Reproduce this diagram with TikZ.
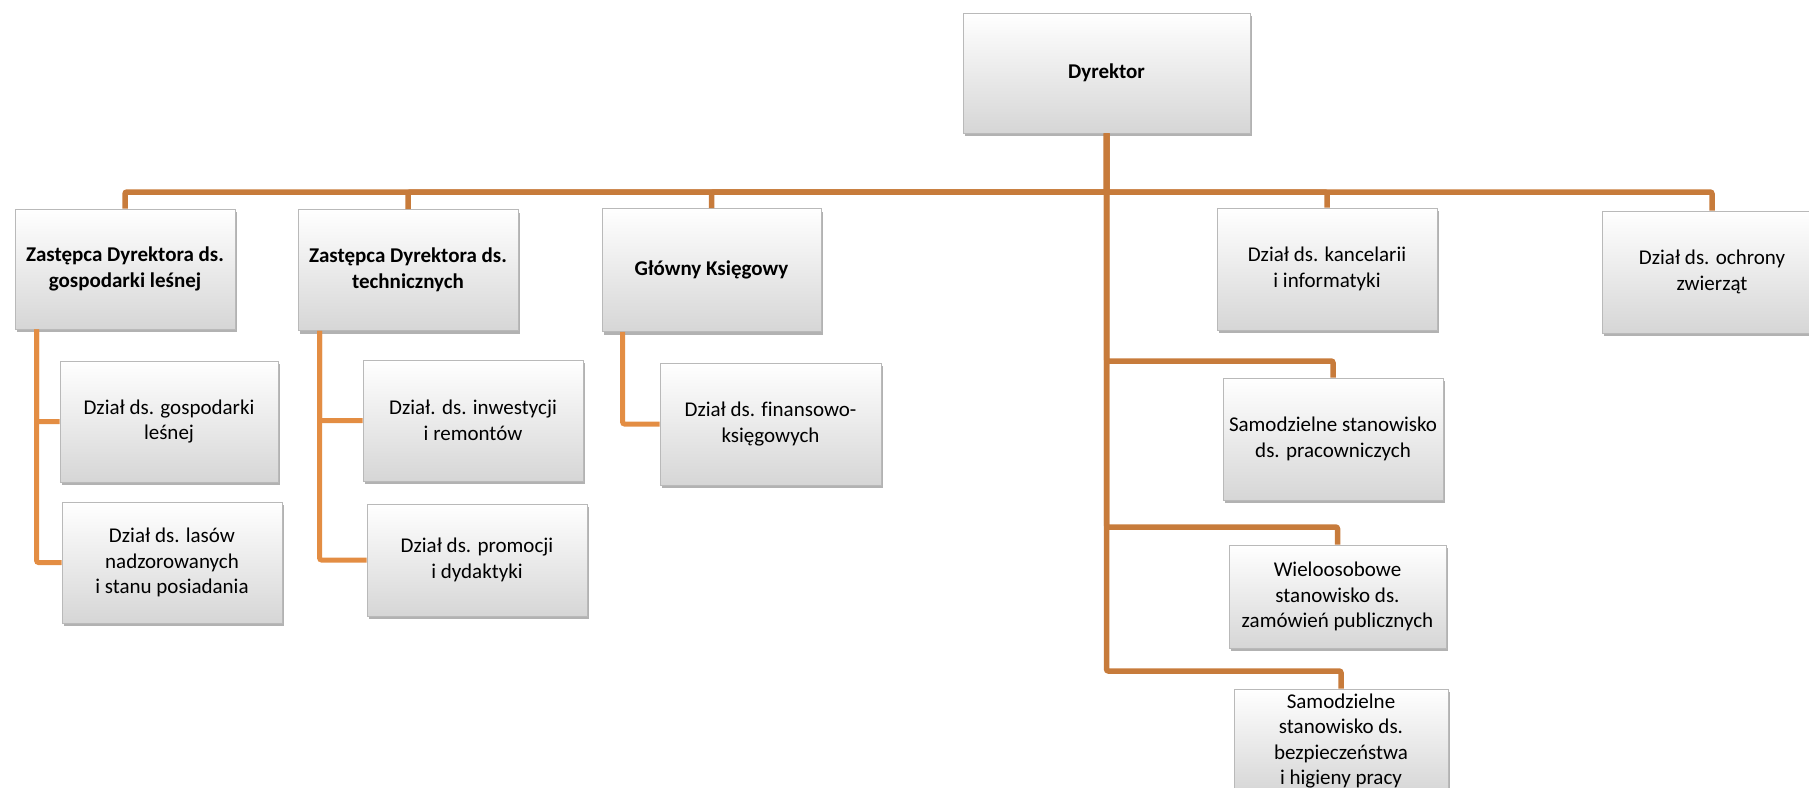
\documentclass[tikz,border=0pt]{standalone}
\usepackage{fontspec}
\setmainfont[Ligatures=NoCommon]{Carlito}
\usetikzlibrary{shadows}
\definecolor{mainline}{HTML}{C77B3B}
\definecolor{subline}{HTML}{E38D43}
\definecolor{boxbot}{HTML}{D6D6D6}
\tikzset{
  orgbox/.style={rectangle, draw=gray!55, line width=0.8pt,
    top color=white, bottom color=boxbot, align=center,
    font=\fontsize{21}{25.5}\selectfont, inner sep=2pt,
    drop shadow={shadow xshift=2pt, shadow yshift=-3pt, opacity=0.3, fill=black}},
  boldbox/.style={orgbox, font=\fontsize{21}{25.5}\selectfont\bfseries},
  mainconn/.style={draw=mainline, line width=5.5pt, rounded corners=2pt},
  subconn/.style={draw=subline, line width=5pt, rounded corners=2pt}
}
\begin{document}
\begin{tikzpicture}[x=1pt, y=-1pt]
\useasboundingbox (0,0) rectangle (1809,787);
% nodes
\node[boldbox, minimum width=287pt, minimum height=120pt] (dyr) at (1106.5,73) {Dyrektor};
\node[boldbox, minimum width=220pt, minimum height=120pt] (z1) at (125,269) {Zastępca Dyrektora ds.\\gospodarki leśnej};
\node[boldbox, minimum width=220pt, minimum height=121pt] (z2) at (408,270) {Zastępca Dyrektora ds.\\technicznych};
\node[boldbox, minimum width=219pt, minimum height=123pt] (gk) at (711.5,270) {Główny Księgowy};
\node[orgbox, minimum width=220pt, minimum height=122pt] (kanc) at (1327,269) {Dział ds. kancelarii\\i informatyki};
\node[orgbox, minimum width=220pt, minimum height=122pt] (ochr) at (1712,272) {Dział ds. ochrony\\zwierząt};

\node[orgbox, minimum width=218pt, minimum height=121pt] (g1) at (169,421.5) {Dział ds. gospodarki\\leśnej};
\node[orgbox, minimum width=220pt, minimum height=121pt] (g2) at (172,562.5) {Dział ds. lasów\\nadzorowanych\\i stanu posiadania};
\node[orgbox, minimum width=220pt, minimum height=121pt] (t1) at (473,420.5) {Dział. ds. inwestycji\\i remontów};
\node[orgbox, minimum width=220pt, minimum height=112pt] (t2) at (477,560) {Dział ds. promocji\\i dydaktyki};
\node[orgbox, minimum width=221pt, minimum height=122pt] (fin) at (770.5,424) {Dział ds. finansowo-\\księgowych};

\node[orgbox, minimum width=220pt, minimum height=122pt] (r1) at (1333,439) {Samodzielne stanowisko\\ds. pracowniczych};
\node[orgbox, minimum width=217pt, minimum height=103pt] (r2) at (1337.5,596.5) {Wieloosobowe\\stanowisko ds.\\zamówień publicznych};
\node[orgbox, minimum width=214pt, minimum height=104pt] (r3) at (1341,741) {Samodzielne\\stanowisko ds.\\bezpieczeństwa\\i higieny pracy};

% coordinates
\coordinate (busy) at (0,192);
\coordinate (b1) at (0,361);
\coordinate (b2) at (0,527);
\coordinate (b3) at (0,671);

% connectors
\draw[mainconn] (dyr.south) -- (dyr.south |- busy) -| (z1.north);
\draw[mainconn] (dyr.south) -- (dyr.south |- busy) -| (z2.north);
\draw[mainconn] (dyr.south) -- (dyr.south |- busy) -| (gk.north);
\draw[mainconn] (dyr.south) -- (dyr.south |- busy) -| (kanc.north);
\draw[mainconn] (dyr.south) -- (dyr.south |- busy) -| (ochr.north);
\draw[mainconn] (dyr.south) -- (dyr.south |- b1) -| (r1.north);
\draw[mainconn] (dyr.south) -- (dyr.south |- b2) -| (r2.north);
\draw[mainconn] (dyr.south) -- (dyr.south |- b3) -| (r3.north);

\draw[subconn] ([xshift=22pt]z1.south west) |- (g1.west);
\draw[subconn] ([xshift=22pt]z1.south west) |- (g2.west);
\draw[subconn] ([xshift=22pt]z2.south west) |- (t1.west);
\draw[subconn] ([xshift=22pt]z2.south west) |- (t2.west);
\draw[subconn] ([xshift=21pt]gk.south west) |- (fin.west);
\end{tikzpicture}
\end{document}
